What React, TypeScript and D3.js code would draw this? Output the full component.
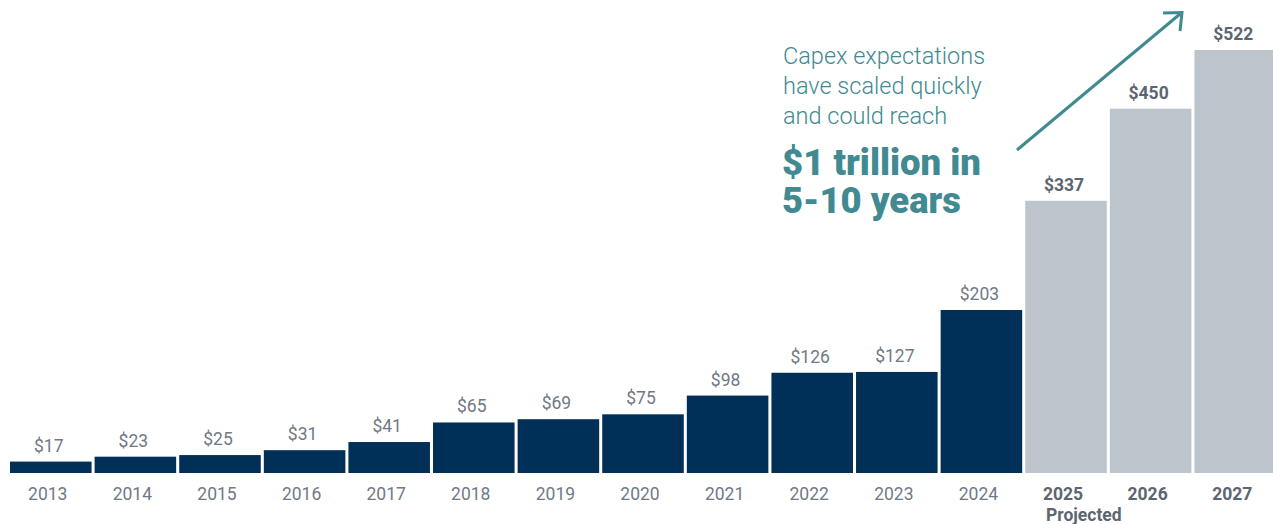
import React from "react";
import * as d3 from "d3";

const years = ["2013","2014","2015","2016","2017","2018","2019","2020","2021","2022","2023","2024","2025","2026","2027"];
const values = [17,23,25,31,41,65,69,75,98,126,127,203,337,450,522];
const projected = [false,false,false,false,false,false,false,false,false,false,false,false,true,true,true];
const annotationLines = ["Capex expectations","have scaled quickly","and could reach"];
const highlightLines = ["$1 trillion in","5-10 years"];
const highlightWidths = [199, 179];
const projectedLabel = "Projected";

const W = 1273, H = 524;
const NAVY = "#003057";
const GRAY = "#bcc4cc";
const TEAL = "#418a91";
const LABEL = "#707985";
const LABEL_BOLD = "#5c6570";

export default function App() {
  const x = d3.scaleBand<string>().domain(years).range([10, 1276]).paddingInner(0.036).paddingOuter(0);
  const y = d3.scaleLinear().domain([3, 522]).range([473, 50]);
  const font = "Roboto, 'Open Sans', sans-serif";
  const bw = x.bandwidth();
  const x2025 = (x("2025") as number) + bw / 2;
  return (
    <svg width={W} height={H} style={{ position: "absolute", left: 0, top: 0, background: "#fff" }} fontFamily={font}>
      {years.map((yr, i) => {
        const bx = x(yr) as number;
        const by = y(values[i]);
        return (
          <g key={yr}>
            <rect x={bx} y={by} width={bw} height={y(3) - by} fill={projected[i] ? GRAY : NAVY} />
            <text x={bx + bw / 2 - 2} y={by - 10} textAnchor="middle" fontSize={17.5}
              fontWeight={projected[i] ? 700 : 400} fill={projected[i] ? LABEL_BOLD : LABEL}>
              {"$" + values[i]}
            </text>
            <text x={bx + bw / 2 - 3} y={500} textAnchor="middle" fontSize={17.5}
              fontWeight={projected[i] ? 700 : 400} fill={projected[i] ? LABEL_BOLD : LABEL}>
              {yr}
            </text>
          </g>
        );
      })}
      <text x={x2025 - 20} y={521} fontSize={17.5} fontWeight={700} fill={LABEL_BOLD}>{projectedLabel}</text>
      <text fontSize={23.5} fontWeight={300} fill={TEAL}>
        {annotationLines.map((t, i) => (
          <tspan key={t} x={783} y={64 + i * 30}>{t}</tspan>
        ))}
      </text>
      <text fontSize={37} fontWeight={900} fill={TEAL}>
        {highlightLines.map((t, i) => (
          <tspan key={t} x={782} y={175 + i * 38}
            textLength={highlightWidths[i]} lengthAdjust="spacingAndGlyphs">{t}</tspan>
        ))}
      </text>
      <line x1={1017} y1={150} x2={1180} y2={14} stroke={TEAL} strokeWidth={3} />
      <polyline points="1163,13 1182,12.5 1180,31" fill="none" stroke={TEAL} strokeWidth={3} />
    </svg>
  );
}
